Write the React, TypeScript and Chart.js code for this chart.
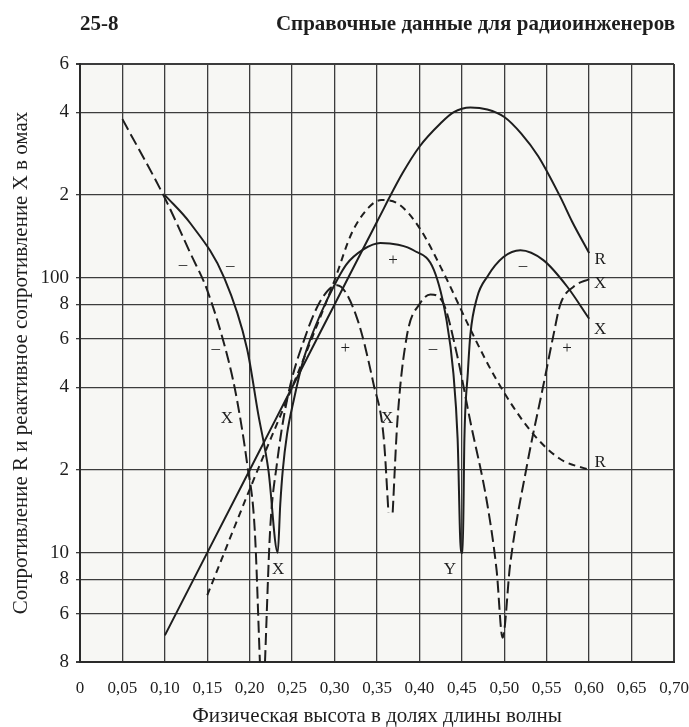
import React, { useEffect, useRef } from "react";
import { Chart, registerables } from "chart.js";

Chart.register(...registerables);

// ---------- axis ticks ----------
const xTickValues = [0, 0.05, 0.1, 0.15, 0.2, 0.25, 0.3, 0.35, 0.4, 0.45, 0.5, 0.55, 0.6, 0.65, 0.7];
const xTickLabels = ["0", "0,05", "0,10", "0,15", "0,20", "0,25", "0,30", "0,35", "0,40", "0,45", "0,50", "0,55", "0,60", "0,65", "0,70"];
const yTickValues = [4, 6, 8, 10, 20, 40, 60, 80, 100, 200, 400, 600];
const yTickLabels = ["8", "6", "8", "10", "2", "4", "6", "8", "100", "2", "4", "6"];

// ---------- series: R (solid) ----------
const rSolidX = [0.1, 0.15, 0.2, 0.25, 0.3, 0.35, 0.38, 0.4, 0.425, 0.44, 0.46, 0.48, 0.5, 0.52, 0.54, 0.566, 0.58, 0.6];
const rSolidY = [5, 10, 20, 40, 80, 160, 240, 300, 365, 400, 417, 410, 385, 335, 277, 197, 160, 123];

// ---------- series: X (solid) ----------
const xSolidX = [0.1, 0.13, 0.17, 0.197, 0.21, 0.222, 0.233, 0.236, 0.239, 0.244, 0.252, 0.263, 0.276, 0.291, 0.314, 0.334, 0.354, 0.375, 0.393, 0.417, 0.432, 0.44, 0.445, 0.449, 0.451, 0.453, 0.457, 0.46, 0.468, 0.48, 0.499, 0.519, 0.546, 0.574, 0.6];
const xSolidY = [200, 158, 100, 55, 32, 20, 10, 15, 20, 27, 36, 50, 65, 83, 112, 127, 134, 132, 126, 107, 70, 45, 26, 10, 10, 26, 45, 62, 85, 101, 119, 126, 116, 93, 71];

// ---------- series: R (dashed) ----------
const rDashX = [0.15, 0.2, 0.25, 0.28, 0.3, 0.32, 0.34, 0.355, 0.375, 0.4, 0.43, 0.46, 0.49, 0.53, 0.565, 0.6];
const rDashY = [7, 17, 40, 68, 98, 145, 180, 192, 186, 152, 102, 65, 43, 28, 22, 20];

// ---------- series: X (dashed) ----------
const xDashX = [0.05, 0.1, 0.13, 0.15, 0.175, 0.185, 0.197, 0.206, 0.212, 0.215, 0.218, 0.224, 0.232, 0.244, 0.267, 0.285, 0.303, 0.326, 0.346, 0.358, 0.3635, 0.366, 0.3685, 0.374, 0.385, 0.401, 0.413, 0.428, 0.444, 0.46, 0.48, 0.491, 0.498, 0.507, 0.527, 0.547, 0.558, 0.566, 0.582, 0.6];
const xDashY = [378, 195, 123, 90, 50, 36, 21, 12, 4, null, 4, 12, 21, 36, 63, 84, 94, 72, 41, 26, 14, null, 14, 30, 61, 81, 87, 81, 53, 30, 15, 8.6, 4.9, 9.1, 21, 42, 62, 80, 93, 99];

// ---------- in-plot marks ----------
const markTexts = ["–", "–", "–", "X", "X", "+", "+", "X", "–", "Y", "–", "+", "R", "X", "X", "R"];
const markX = [0.1215, 0.177, 0.16, 0.173, 0.2335, 0.3125, 0.369, 0.362, 0.416, 0.436, 0.522, 0.574, 0.613, 0.613, 0.613, 0.613];
const markY = [112, 111, 55.5, 30.7, 8.7, 55.5, 116, 30.7, 55.5, 8.7, 111, 55.5, 117, 95.6, 64.6, 21.2];

const headerLeft = "25-8";
const headerRight = "Справочные данные для радиоинженеров";
const xTitle = "Физическая высота в долях длины волны";
const yTitle = "Сопротивление R и реактивное сопротивление X в омах";

const SERIF = "'Liberation Serif', 'DejaVu Serif', serif";
const INK = "#1e1e1e";

const pts = (xs: number[], ys: (number | null)[]) => xs.map((x, i) => ({ x, y: ys[i] }));

const paper = {
  id: "paper",
  beforeDraw(chart: any) {
    const { ctx, chartArea } = chart;
    ctx.save();
    ctx.fillStyle = "#f7f7f4";
    ctx.fillRect(chartArea.left, chartArea.top, chartArea.right - chartArea.left, chartArea.bottom - chartArea.top);
    ctx.restore();
  },
};

const annotate = {
  id: "annotate",
  afterDatasetsDraw(chart: any) {
    const { ctx, scales } = chart;
    ctx.save();
    ctx.fillStyle = INK;
    ctx.textAlign = "center";
    ctx.textBaseline = "middle";
    ctx.font = `17px ${SERIF}`;
    markTexts.forEach((t, i) => {
      const px = scales.x.getPixelForValue(markX[i]);
      const py = scales.y.getPixelForValue(markY[i]);
      ctx.fillText(t, px, py);
    });
    ctx.font = `bold 21px ${SERIF}`;
    ctx.textAlign = "left";
    ctx.fillText(headerLeft, scales.x.left, 25);
    ctx.textAlign = "right";
    ctx.fillText(headerRight, scales.x.right + 1, 25);
    ctx.restore();
  },
};

export default function App() {
  const ref = useRef<HTMLCanvasElement>(null);
  useEffect(() => {
    const canvas = ref.current!;
    const line = (data: any, dash: number[]) => ({
      data,
      showLine: true,
      borderColor: INK,
      borderWidth: 2,
      borderDash: dash,
      pointRadius: 0,
      fill: false,
      spanGaps: false,
      cubicInterpolationMode: "monotone",
    });
    const edgeX = (c: any) => (c.tick && (c.tick.value === 0 || Math.abs(c.tick.value - 0.7) < 1e-6) ? 2 : 1.3);
    const edgeY = (c: any) => (c.tick && (c.tick.value === 4 || c.tick.value === 600) ? 2 : 1.3);
    const chart = new Chart(canvas, {
      type: "scatter",
      data: {
        datasets: [
          line(pts(rSolidX, rSolidY), []),
          line(pts(xSolidX, xSolidY), []),
          line(pts(rDashX, rDashY), [7, 5]),
          line(pts(xDashX, xDashY), [12, 5]),
        ] as any,
      },
      options: {
        responsive: false,
        animation: false,
        devicePixelRatio: 1,
        layout: { padding: { top: 64, right: 15, left: 0, bottom: 0 } },
        plugins: { legend: { display: false }, tooltip: { enabled: false } },
        scales: {
          x: {
            type: "linear",
            min: 0,
            max: 0.7,
            afterBuildTicks: (s: any) => {
              s.ticks = xTickValues.map((v) => ({ value: v }));
            },
            afterFit: (s: any) => {
              s.height = 65;
              s.paddingLeft = 0;
              s.paddingRight = 0;
            },
            ticks: {
              callback: (_v: any, i: number) => xTickLabels[i],
              font: { family: SERIF, size: 17 },
              color: INK,
              padding: 16,
              maxRotation: 0,
              minRotation: 0,
              autoSkip: false,
            },
            grid: { color: "#3c3c3c", lineWidth: edgeX, drawTicks: false },
            border: { color: "#2a2a2a", width: 2 },
            title: { display: true, text: xTitle, font: { family: SERIF, size: 21, lineHeight: 1 }, color: INK, padding: { top: 0, bottom: 0 } },
          },
          y: {
            type: "logarithmic",
            min: 4,
            max: 600,
            afterBuildTicks: (s: any) => {
              s.ticks = yTickValues.map((v) => ({ value: v }));
            },
            afterFit: (s: any) => {
              s.width = 80;
              s.paddingTop = 0;
              s.paddingBottom = 0;
            },
            ticks: {
              callback: (_v: any, i: number) => yTickLabels[i],
              font: { family: SERIF, size: 19 },
              color: INK,
              padding: 7,
              autoSkip: false,
            },
            grid: { color: "#3c3c3c", lineWidth: edgeY, drawTicks: true, tickLength: 4 },
            border: { color: "#2a2a2a", width: 2 },
            title: { display: true, text: yTitle, font: { family: SERIF, size: 21, lineHeight: 1 }, color: INK, padding: { top: 11, bottom: 0 } },
          },
        },
      },
      plugins: [paper, annotate],
    } as any);
    return () => chart.destroy();
  }, []);
  return (
    <div style={{ position: "fixed", left: 0, top: 0, width: 689, height: 727, background: "#ffffff" }}>
      <canvas ref={ref} width={689} height={727} style={{ display: "block", width: 689, height: 727 }} />
    </div>
  );
}
